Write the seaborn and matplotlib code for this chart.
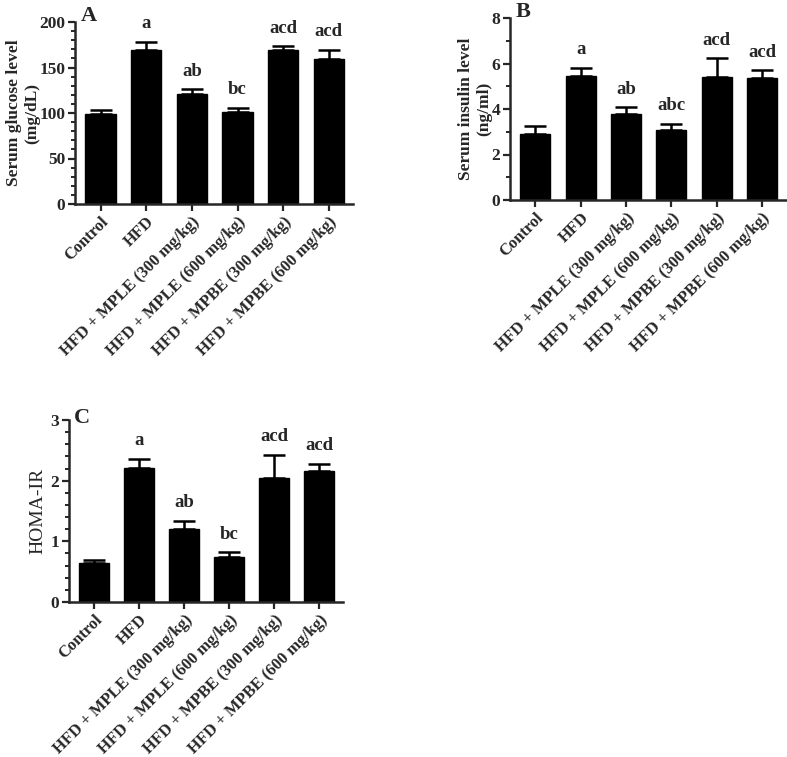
import numpy as np
import matplotlib
matplotlib.use('Agg')
import matplotlib.pyplot as plt
from matplotlib.ticker import MultipleLocator, AutoMinorLocator
import seaborn as sns

# Data
groups = ['Control', 'HFD', 'HFD + MPLE (300 mg/kg)', 'HFD + MPLE (600 mg/kg)',
          'HFD + MPBE (300 mg/kg)', 'HFD + MPBE (600 mg/kg)']

glucose_mean = [98.6, 169.6, 121.2, 101.4, 168.9, 159.7]
glucose_sem = [5.0, 8.8, 4.8, 4.4, 4.4, 9.5]
glucose_sig = ['', 'a', 'ab', 'bc', 'acd', 'acd']

insulin_mean = [2.91, 5.45, 3.78, 3.08, 5.41, 5.38]
insulin_sem = [0.33, 0.37, 0.29, 0.27, 0.82, 0.32]
insulin_sig = ['', 'a', 'ab', 'abc', 'acd', 'acd']

homa_mean = [0.64, 2.21, 1.21, 0.74, 2.05, 2.16]
homa_sem = [0.05, 0.15, 0.13, 0.08, 0.38, 0.12]
homa_sig = ['', 'a', 'ab', 'bc', 'acd', 'acd']

sns.set_style('ticks')
plt.rcParams['font.family'] = ['Liberation Serif', 'DejaVu Serif']
plt.rcParams['font.weight'] = 'bold'
plt.rcParams['axes.linewidth'] = 1.8

W, H = 787, 757
fig = plt.figure(figsize=(W / 100, H / 100), dpi=100)


def px_axes(x0, y0, x1, y1):
    return fig.add_axes([x0 / W, 1 - y1 / H, (x1 - x0) / W, (y1 - y0) / H])


def panel(ax, means, sems, sigs, ylim, major, n_minor, ylabel, label_x,
          ylabel_bold=True, ylabel_size=12.5):
    sns.barplot(x=groups, y=means, color='black', saturation=1, width=0.66,
                edgecolor='black', ax=ax)
    xs = np.arange(len(groups))
    ax.errorbar(xs, means, yerr=[np.zeros(len(sems)), sems], fmt='none',
                ecolor='black', elinewidth=1.8, capsize=8, capthick=1.8)
    for x, m, s, lab in zip(xs, means, sems, sigs):
        if lab:
            ax.annotate(lab, (x, m + s), xytext=(0, 7), textcoords='offset points',
                        ha='center', va='bottom', fontsize=13.5, fontweight='bold')
    ax.set_xlim(-0.56, len(groups) - 0.47)
    ax.set_ylim(*ylim)
    ax.yaxis.set_major_locator(MultipleLocator(major))
    ax.yaxis.set_minor_locator(AutoMinorLocator(n_minor))
    sns.despine(ax=ax)
    ax.tick_params(axis='both', which='major', length=5, width=1.6,
                   labelsize=12.5, pad=2)
    ax.tick_params(axis='y', which='minor', length=3, width=1.4)
    ax.set_xticks(xs)
    ax.set_xticklabels(groups, rotation=45, ha='right', rotation_mode='anchor',
                       fontsize=12, fontweight='bold')
    for t in ax.get_yticklabels():
        t.set_fontweight('bold')
    ax.set_ylabel(ylabel, fontsize=ylabel_size,
                  fontweight='bold' if ylabel_bold else 'normal')
    # place the right edge of the label block (in axes fraction)
    ax.yaxis.set_label_coords(label_x, 0.5)
    ax.set_xlabel('')


axA = px_axes(75, 22, 353, 204)
panel(axA, glucose_mean, glucose_sem, glucose_sig, (0, 200), 50, 5,
      'Serum glucose level\n(mg/dL)', (40 - 75) / 278)

axB = px_axes(510, 18, 786, 200)
panel(axB, insulin_mean, insulin_sem, insulin_sig, (0, 8), 2, 2,
      'Serum insulin level\n(ng/ml)', (492 - 510) / 276)

axC = px_axes(69, 420, 343, 602)
panel(axC, homa_mean, homa_sem, homa_sig, (0, 3), 1, 5, 'HOMA-IR',
      (46 - 69) / 274, ylabel_bold=False, ylabel_size=14)

for lab, x, y in [('A', 81, 21), ('B', 516, 17), ('C', 74, 423)]:
    fig.text(x / W, 1 - y / H, lab, fontsize=16, fontweight='bold',
             ha='left', va='baseline')

fig.savefig('out.png', dpi=100)
